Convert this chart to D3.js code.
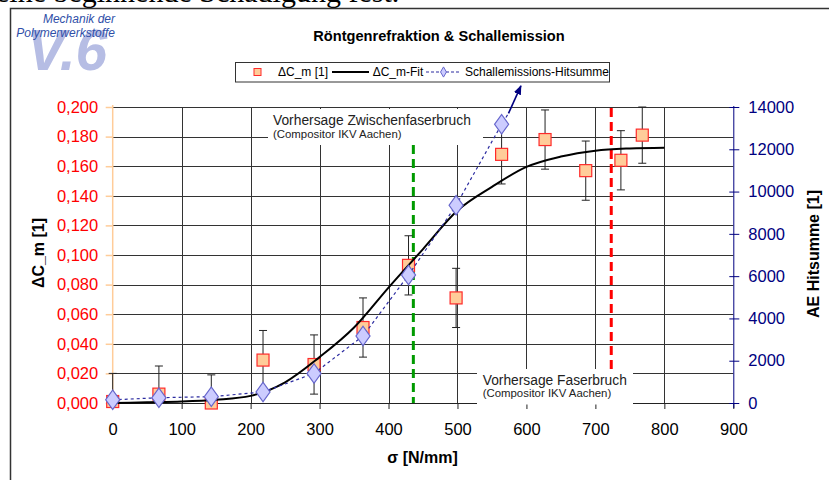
<!DOCTYPE html>
<html><head><meta charset="utf-8">
<script src="https://cdn.jsdelivr.net/npm/d3@7"></script>
<style>body{margin:0;background:#fff;} svg{display:block;}</style>
</head><body><div id="chart"></div>
<script>
// ---- data ----
const sigma      = [0, 67, 143, 218, 292, 363, 429, 498, 564, 627, 686, 737, 768];
const deltaCm    = [0.001, 0.006, 0.000, 0.029, 0.026, 0.051, 0.093, 0.071, 0.168, 0.178, 0.157, 0.164, 0.181];
const deltaCmErr = [0.019, 0.019, 0.019, 0.020, 0.020, 0.020, 0.020, 0.020, 0.020, 0.020, 0.020, 0.020, 0.019];
const fitSigma   = [0, 50, 100, 150, 200, 250, 300, 350, 400, 450, 500, 550, 600, 650, 700, 750, 800];
const fitDeltaCm = [0.0000, 0.0005, 0.0010, 0.0022, 0.0048, 0.0140, 0.0310, 0.0510, 0.0780, 0.1040, 0.1300, 0.1460, 0.1595, 0.1665, 0.1705, 0.1720, 0.1725];
const aeSigma    = [0, 67, 143, 218, 292, 363, 429, 498, 564];
const aeHits     = [150, 250, 300, 520, 1400, 3170, 6050, 9350, 13180];
const aeArrowFrom = [574, 13700];
const aeArrowTo   = [592, 15000];
const xTicks      = [0, 100, 200, 300, 400, 500, 600, 700, 800, 900];
const yLeftTicks  = [0, 0.02, 0.04, 0.06, 0.08, 0.10, 0.12, 0.14, 0.16, 0.18, 0.20];
const yRightTicks = [0, 2000, 4000, 6000, 8000, 10000, 12000, 14000];
const predZwischenfaserbruch = 436;
const predFaserbruch = 723;

// ---- layout ----
const W = 829, H = 480;
const L = 112.7, R = 733.3, T = 107, B = 403;
const FONT = "'Liberation Sans', Arial, sans-serif";

const svg = d3.select("#chart").append("svg").attr("width", W).attr("height", H)
  .style("font-family", FONT);

const x  = d3.scaleLinear().domain([0, 900]).range([L, R]);
const yL = d3.scaleLinear().domain([0, 0.2]).range([B, T]);
const yR = d3.scaleLinear().domain([0, 14000]).range([B, T]);

// page text (clipped) and frame
svg.append("text").attr("x", -4).attr("y", 2)
  .attr("font-family", "'Liberation Serif', 'Times New Roman', serif")
  .attr("font-size", 30).attr("fill", "#000").text("eine beginnende Schädigung fest.");
svg.append("path").attr("d", `M10.5,${H} V8.5 H${W}`).attr("fill", "none")
  .attr("stroke", "#333").attr("stroke-width", 1.5);

// logo
svg.append("text").attr("x", 27).attr("y", 70).attr("font-size", 57)
  .attr("font-weight", "bold").attr("font-style", "italic").attr("fill", "#B6BDE4").text("V.6");
svg.append("text").attr("x", 115).attr("y", 23).attr("text-anchor", "end").attr("font-size", 12)
  .attr("font-style", "italic").attr("fill", "#2F4FA8").text("Mechanik der");
svg.append("text").attr("x", 115).attr("y", 37).attr("text-anchor", "end").attr("font-size", 12)
  .attr("font-style", "italic").attr("fill", "#2F4FA8").text("Polymerwerkstoffe");

// title
svg.append("text").attr("x", 439).attr("y", 41).attr("text-anchor", "middle")
  .attr("font-size", 14.6).attr("font-weight", "bold").text("Röntgenrefraktion & Schallemission");

// grid
const g = svg.append("g");
g.selectAll(".vg").data(xTicks.filter(d => d > 0 && d < 900)).join("line")
  .attr("x1", d => Math.round(x(d)) + 0.5).attr("x2", d => Math.round(x(d)) + 0.5)
  .attr("y1", T).attr("y2", B).attr("stroke", "#333").attr("stroke-width", 1);
g.selectAll(".hg").data(yLeftTicks.filter(d => d > 0)).join("line")
  .attr("x1", L).attr("x2", R)
  .attr("y1", d => Math.round(yL(d)) + 0.5).attr("y2", d => Math.round(yL(d)) + 0.5)
  .attr("stroke", "#333").attr("stroke-width", 1);

// x axis
const xAxis = svg.append("g").attr("transform", `translate(0,${B})`)
  .call(d3.axisBottom(x).tickValues(xTicks).tickSize(6).tickPadding(14).tickFormat(d3.format("d")));
xAxis.select(".domain").attr("stroke", "#222").attr("d", `M${L},0.5H${R}`);
xAxis.selectAll(".tick line").attr("stroke", "#222");
xAxis.selectAll("text").attr("font-size", 16.5).attr("fill", "#000").attr("font-family", FONT);

// dashed prediction lines
svg.append("line").attr("x1", x(predZwischenfaserbruch)).attr("x2", x(predZwischenfaserbruch))
  .attr("y1", 145).attr("y2", B).attr("stroke", "#009A00").attr("stroke-width", 3)
  .attr("stroke-dasharray", "9,5");
svg.append("line").attr("x1", x(predFaserbruch)).attr("x2", x(predFaserbruch))
  .attr("y1", 108).attr("y2", B).attr("stroke", "#FF0000").attr("stroke-width", 3)
  .attr("stroke-dasharray", "9,5");

// annotation boxes
svg.append("rect").attr("x", 268).attr("y", 109).attr("width", 215).attr("height", 36).attr("fill", "#fff");
svg.append("text").attr("x", 273).attr("y", 125).attr("font-size", 13.8).attr("fill", "#222")
  .text("Vorhersage Zwischenfaserbruch");
svg.append("text").attr("x", 273).attr("y", 137.5).attr("font-size", 11.4).attr("fill", "#222")
  .text("(Compositor IKV Aachen)");
svg.append("rect").attr("x", 477).attr("y", 369).attr("width", 156).attr("height", 35.5).attr("fill", "#fff");
svg.append("text").attr("x", 482.7).attr("y", 385).attr("font-size", 13.8).attr("fill", "#222")
  .text("Vorhersage Faserbruch");
svg.append("text").attr("x", 482.7).attr("y", 397).attr("font-size", 11.4).attr("fill", "#222")
  .text("(Compositor IKV Aachen)");

// left axis
const yAxisL = svg.append("g").attr("transform", `translate(${L},0)`)
  .call(d3.axisLeft(yL).tickValues(yLeftTicks).tickSize(7).tickPadding(7.5)
    .tickFormat(d => d3.format(".3f")(d).replace(".", ",")));
yAxisL.select(".domain").attr("stroke", "#FFCC99").attr("stroke-width", 1.5).attr("d", `M0,${T - 2}V${B}`);
yAxisL.selectAll(".tick line").attr("stroke", "#FFCC99").attr("stroke-width", 1.5);
yAxisL.selectAll("text").attr("font-size", 16.5).attr("fill", "#FF0000").attr("font-family", FONT);

// right axis
const yAxisR = svg.append("g").attr("transform", `translate(${R},0)`)
  .call(d3.axisRight(yR).tickValues(yRightTicks).tickSize(6).tickPadding(9).tickFormat(d3.format("d")));
yAxisR.select(".domain").attr("stroke", "#000080").attr("d", `M0.5,${T - 1}V${B + 5}`);
yAxisR.selectAll(".tick line").attr("stroke", "#000080").attr("x1", -4).attr("x2", 6);
yAxisR.selectAll("text").attr("font-size", 16.5).attr("fill", "#000080").attr("font-family", FONT);

// axis titles
svg.append("text").attr("transform", "translate(44,253) rotate(-90)").attr("text-anchor", "middle")
  .attr("font-size", 16).attr("font-weight", "bold").text("ΔC_m [1]");
svg.append("text").attr("transform", "translate(819,254) rotate(-90)").attr("text-anchor", "middle")
  .attr("font-size", 16).attr("font-weight", "bold").text("AE Hitsumme [1]");
svg.append("text").attr("x", 422.5).attr("y", 463).attr("text-anchor", "middle")
  .attr("font-size", 16).attr("font-weight", "bold").text("σ [N/mm]");

// error bars
const pts = sigma.map((s, i) => ({ s, v: deltaCm[i], e: deltaCmErr[i] }));
const eb = svg.append("g").attr("stroke", "#222").attr("stroke-width", 1);
pts.forEach(p => {
  const lo = Math.max(0, p.v - p.e), hi = p.v + p.e;
  const cx = x(p.s);
  eb.append("line").attr("x1", cx).attr("x2", cx).attr("y1", yL(lo)).attr("y2", yL(hi));
  eb.append("line").attr("x1", cx - 4).attr("x2", cx + 4).attr("y1", yL(hi)).attr("y2", yL(hi));
  if (p.v - p.e > 0) eb.append("line").attr("x1", cx - 4).attr("x2", cx + 4).attr("y1", yL(lo)).attr("y2", yL(lo));
});

// squares
svg.append("g").selectAll("rect").data(pts).join("rect")
  .attr("x", d => x(d.s) - 6).attr("y", d => yL(d.v) - 6).attr("width", 12).attr("height", 12)
  .attr("fill", "#FFCC99").attr("stroke", "#FF2A2A").attr("stroke-width", 1.2);

// fit line
svg.append("path").datum(fitSigma.map((s, i) => [s, fitDeltaCm[i]]))
  .attr("fill", "none").attr("stroke", "#000").attr("stroke-width", 2)
  .attr("d", d3.line().x(d => x(d[0])).y(d => yL(d[1])).curve(d3.curveMonotoneX));

// AE line + arrow
const ae = aeSigma.map((s, i) => [s, aeHits[i]]);
svg.append("path").datum(ae.concat([aeArrowFrom]))
  .attr("fill", "none").attr("stroke", "#2B2BA0").attr("stroke-width", 1.2).attr("stroke-dasharray", "3,3")
  .attr("d", d3.line().x(d => x(d[0])).y(d => yR(d[1])));
const defs = svg.append("defs");
defs.append("marker").attr("id", "arr").attr("viewBox", "0 0 10 10").attr("refX", 9).attr("refY", 5)
  .attr("markerWidth", 6).attr("markerHeight", 6).attr("orient", "auto")
  .append("path").attr("d", "M0,1 L10,5 L0,9 Z").attr("fill", "#000080");
svg.append("line").attr("x1", x(aeArrowFrom[0])).attr("y1", yR(aeArrowFrom[1]))
  .attr("x2", x(aeArrowTo[0])).attr("y2", yR(aeArrowTo[1]))
  .attr("stroke", "#000080").attr("stroke-width", 1.6).attr("marker-end", "url(#arr)");

// diamonds
const dsym = d3.symbol().type(d3.symbolDiamond).size(110);
svg.append("g").selectAll("path").data(ae).join("path")
  .attr("transform", d => `translate(${x(d[0])},${yR(d[1])}) scale(1.25,1)`)
  .attr("d", dsym).attr("fill", "#CCCCFF").attr("stroke", "#6666CC").attr("stroke-width", 1);

// legend
const lg = svg.append("g");
lg.append("rect").attr("x", 235.5).attr("y", 62.5).attr("width", 374).attr("height", 19.5)
  .attr("fill", "#fff").attr("stroke", "#333").attr("stroke-width", 1);
lg.append("rect").attr("x", 254).attr("y", 68.5).attr("width", 7).attr("height", 7)
  .attr("fill", "#FFCC99").attr("stroke", "#FF2A2A").attr("stroke-width", 1);
lg.append("text").attr("x", 278).attr("y", 76).attr("font-size", 12).text("ΔC_m [1]");
lg.append("line").attr("x1", 332).attr("x2", 369).attr("y1", 72).attr("y2", 72)
  .attr("stroke", "#000").attr("stroke-width", 2);
lg.append("text").attr("x", 372.7).attr("y", 76).attr("font-size", 12).text("ΔC_m-Fit");
lg.append("line").attr("x1", 426).attr("x2", 461).attr("y1", 72).attr("y2", 72)
  .attr("stroke", "#2B2BA0").attr("stroke-width", 1).attr("stroke-dasharray", "3,2");
lg.append("path").attr("transform", "translate(443.5,72)").attr("d", d3.symbol().type(d3.symbolDiamond).size(30))
  .attr("fill", "#CCCCFF").attr("stroke", "#6666CC");
lg.append("text").attr("x", 465).attr("y", 76).attr("font-size", 12).text("Schallemissions-Hitsumme");
</script></body></html>
